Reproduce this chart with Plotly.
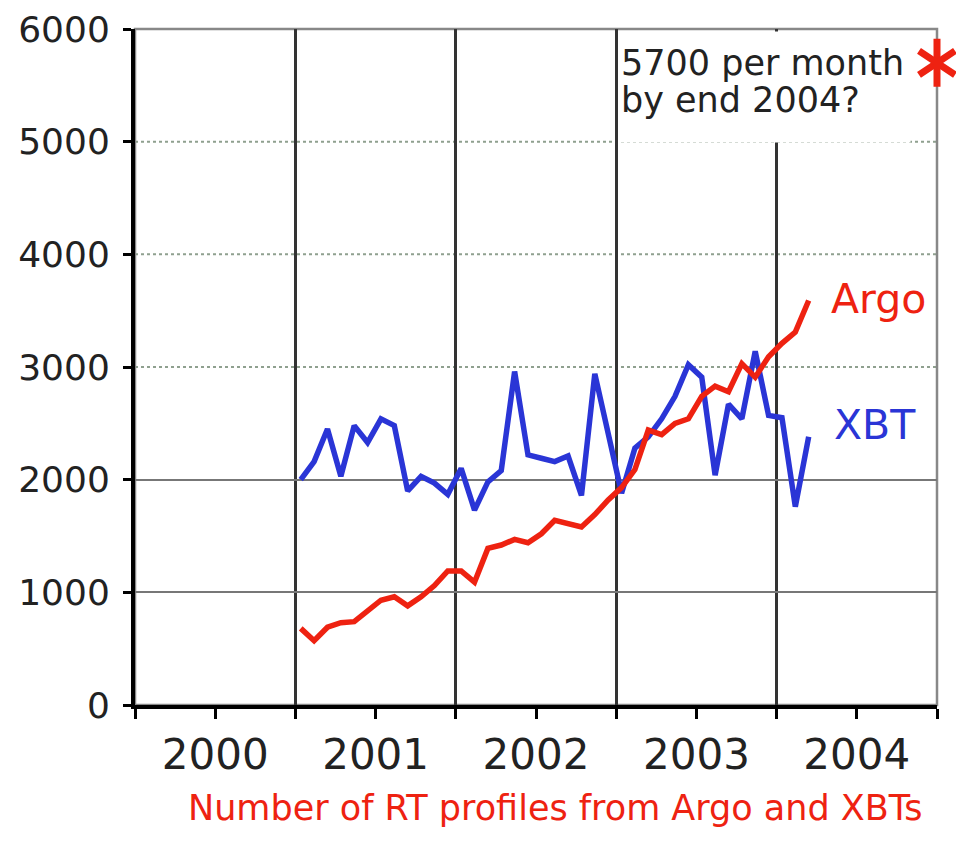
import plotly.graph_objects as go

# ---- data (monthly, Jan 2001 .. Mar 2004) ----
start_year = 2001
xbt = [2000, 2160, 2450, 2030, 2480, 2330, 2540, 2480, 1900, 2030, 1970, 1870,
       2100, 1730, 1980, 2080, 2960, 2220, 2190, 2160, 2210, 1860, 2940, 2410,
       1880, 2280, 2380, 2540, 2740, 3020, 2910, 2040, 2670, 2540, 3140, 2570,
       2550, 1760, 2380]
argo = [680, 570, 690, 730, 740, 830, 930, 960, 880, 960, 1060, 1190,
        1190, 1090, 1390, 1420, 1470, 1440, 1520, 1640, 1610, 1580, 1690, 1820,
        1930, 2090, 2440, 2400, 2500, 2540, 2740, 2830, 2780, 3030, 2910, 3090,
        3210, 3310, 3590]
target_x = [2005.0]
target_y = [5700]
year_labels = ["2000", "2001", "2002", "2003", "2004"]
year_bounds = [2000, 2001, 2002, 2003, 2004, 2005]
y_ticks = [0, 1000, 2000, 3000, 4000, 5000, 6000]
solid_grid = [1000, 2000]
dotted_grid = [3000, 4000, 5000]
note_lines = ["5700 per month", "by end 2004?"]

months = [start_year + (k + 0.4) / 12 for k in range(len(argo))]

RED = "#ee2211"
BLUE = "#2a35d6"
FONT = "DejaVu Sans"
X_RANGE = [2000, 2005]
Y_RANGE = [0, 6000]

fig = go.Figure()
fig.add_trace(go.Scatter(x=months, y=xbt, mode="lines",
                         line=dict(color=BLUE, width=5.5)))
fig.add_trace(go.Scatter(x=months, y=argo, mode="lines",
                         line=dict(color=RED, width=5.5)))
for sym in ["y-up-open", "y-down-open"]:
    fig.add_trace(go.Scatter(x=target_x, y=target_y, mode="markers",
                             cliponaxis=False,
                             marker=dict(symbol=sym, size=30, color=RED,
                                         line=dict(color=RED, width=7))))

fig.update_layout(
    width=956, height=842,
    margin=dict(l=135, r=19, t=29, b=137, autoexpand=False),
    paper_bgcolor="white", plot_bgcolor="white",
    showlegend=False,
    font=dict(family=FONT, color="#222"),
    xaxis=dict(
        range=X_RANGE, automargin=False,
        tickvals=[b + 0.5 for b in year_bounds[:-1]], ticktext=year_labels,
        ticks="outside", ticklen=10, tickwidth=3, tickcolor="black",
        showline=True, linecolor="black", linewidth=4,
        showgrid=False, zeroline=False,
        tickfont=dict(size=42, color="#222"), ticklabelstandoff=0,
        minor=dict(tickvals=year_bounds, ticks="outside", ticklen=10,
                   tickwidth=3, tickcolor="black",
                   showgrid=True, gridcolor="#333", gridwidth=2.5),
    ),
    yaxis=dict(
        range=Y_RANGE, tickvals=y_ticks, automargin=False,
        ticks="outside", ticklen=8, tickwidth=3, tickcolor="black",
        showline=True, linecolor="black", linewidth=4,
        showgrid=False, zeroline=False, ticklabeloverflow="allow",
        tickfont=dict(size=36, color="#222"), ticklabelstandoff=6,
        minor=dict(tickvals=solid_grid, ticks="",
                   showgrid=True, gridcolor="#777", gridwidth=2),
    ),
)

# dotted reference lines and the grey plot frame
for v in dotted_grid:
    fig.add_hline(y=v, line=dict(color="#8fa08f", width=2, dash="dot"),
                  layer="below")
fig.add_shape(type="rect", xref="paper", yref="paper", x0=0, y0=0, x1=1, y1=1,
              line=dict(color="#888", width=2.5), layer="below")

# note: white box hiding the upper part of the 2004 grid line, then two text lines
fig.add_annotation(x=2003.02, y=5985, xref="x", yref="y",
                   xanchor="left", yanchor="top",
                   width=290, height=110, borderpad=0,
                   text="&nbsp;", showarrow=False, bgcolor="white")
for i, line_txt in enumerate(note_lines):
    fig.add_annotation(x=2003.02, y=5985, xref="x", yref="y",
                       xanchor="left", yanchor="top", align="left",
                       yshift=-10 - 37 * i,
                       text=line_txt, showarrow=False,
                       font=dict(size=35, color="#222", family=FONT))

fig.add_annotation(x=months[-1], y=argo[-1], xref="x", yref="y",
                   xanchor="left", yanchor="middle", xshift=20, yshift=2,
                   text="Argo", showarrow=False,
                   font=dict(size=41, color=RED, family=FONT))
fig.add_annotation(x=months[-1], y=xbt[-1], xref="x", yref="y",
                   xanchor="left", yanchor="middle", xshift=23, yshift=12,
                   text="XBT", showarrow=False,
                   font=dict(size=41, color=BLUE, family=FONT))
fig.add_annotation(x=0.524, y=-0.152, xref="paper", yref="paper",
                   xanchor="center", yanchor="middle",
                   text="Number of RT profiles from Argo and XBTs",
                   showarrow=False,
                   font=dict(size=35, color=RED, family=FONT))

fig.write_html(
    "out.html",
    config={"displayModeBar": False},
    post_script=("document.documentElement.style.margin='0';"
                 "document.documentElement.style.overflow='hidden';"
                 "document.body.style.margin='0';"
                 "document.body.style.padding='0';"
                 "document.body.style.overflow='hidden';"),
)
